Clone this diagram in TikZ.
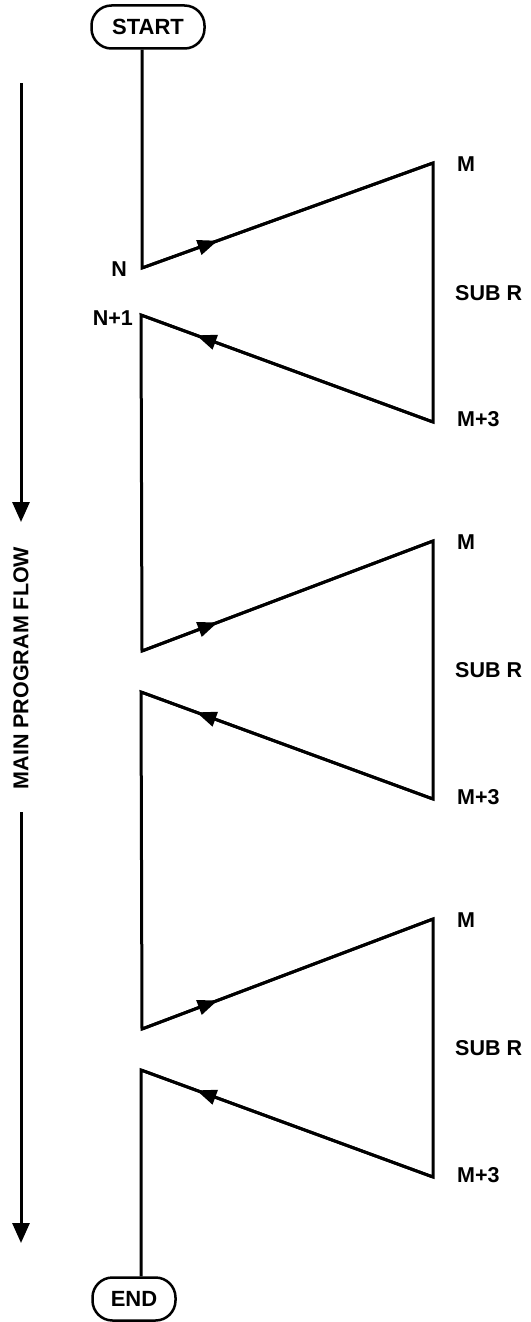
\documentclass[tikz,border=0pt]{standalone}
\usepackage{fontspec}
\setmainfont{Liberation Sans}
\usetikzlibrary{arrows.meta,decorations.markings}
\tikzset{
  flowline/.style={line width=3pt, line join=miter},
  term/.style={draw, line width=2.5pt, rounded corners=20pt, minimum width=113pt, minimum height=43pt, inner sep=0pt, font=\bfseries\fontsize{22}{22}\selectfont},
  lab/.style={font=\bfseries\fontsize{21.5}{21.5}\selectfont, inner sep=0pt},
  midarrow/.style={postaction={decorate}, decoration={markings, mark=at position #1 with {\arrow{Triangle[length=20pt,width=15pt]}}}},
  bigarrow/.style={-{Triangle[length=20pt,width=17pt]}, line width=3pt},
}
\begin{document}
\begin{tikzpicture}[x=1pt,y=-1pt]
\useasboundingbox (0,0) rectangle (530,1322);
\node[term] (start) at (148,27) {START};
\node[term, minimum width=83pt] (end) at (134,1299) {END};
% corners
\coordinate (a1) at (142,268);  \coordinate (b1) at (433,163);
\coordinate (c1) at (433,422);  \coordinate (d1) at (141,315);
\coordinate (a2) at (142,651);  \coordinate (b2) at (433,541);
\coordinate (c2) at (433,799);  \coordinate (d2) at (141,692);
\coordinate (a3) at (142,1029); \coordinate (b3) at (433,919);
\coordinate (c3) at (433,1177); \coordinate (d3) at (141,1070);
% main polyline
\draw[flowline] (start.south -| a1) -- (a1) -- (b1) -- (c1) -- (d1) -- (a2) -- (b2) -- (c2) -- (d2) -- (a3) -- (b3) -- (c3) -- (d3) -- (end.north -| d3);
% direction arrows
\foreach \i in {1,2,3}{
  \draw[flowline, midarrow=0.26] (a\i) -- (b\i);
  \draw[flowline, midarrow=0.81] (c\i) -- (d\i);
}
% labels
\node[lab, anchor=east] (ln) at (127,269) {N};
\node[lab, anchor=east] (ln1) at (133,318) {N+1};
\foreach \i/\ym/\ys/\yc in {1/164/293/419, 2/542/670/797, 3/920/1048/1175}{
  \node[lab, anchor=west] (m\i) at (457,\ym) {M};
  \node[lab, anchor=west] (s\i) at (455,\ys) {SUB R};
  \node[lab, anchor=west] (mm\i) at (457,\yc) {M+3};
}
% main program flow arrow
\coordinate (f1) at (21,83);
\coordinate (f2) at (21,522);
\node[lab, rotate=90] (flowlab) at (21,668) {MAIN PROGRAM FLOW};
\coordinate (f3) at (21,812);
\coordinate (f4) at (21,1243);
\draw[bigarrow] (f1) -- (f2);
\draw[bigarrow] (f3) -- (f4);
\end{tikzpicture}
\end{document}
